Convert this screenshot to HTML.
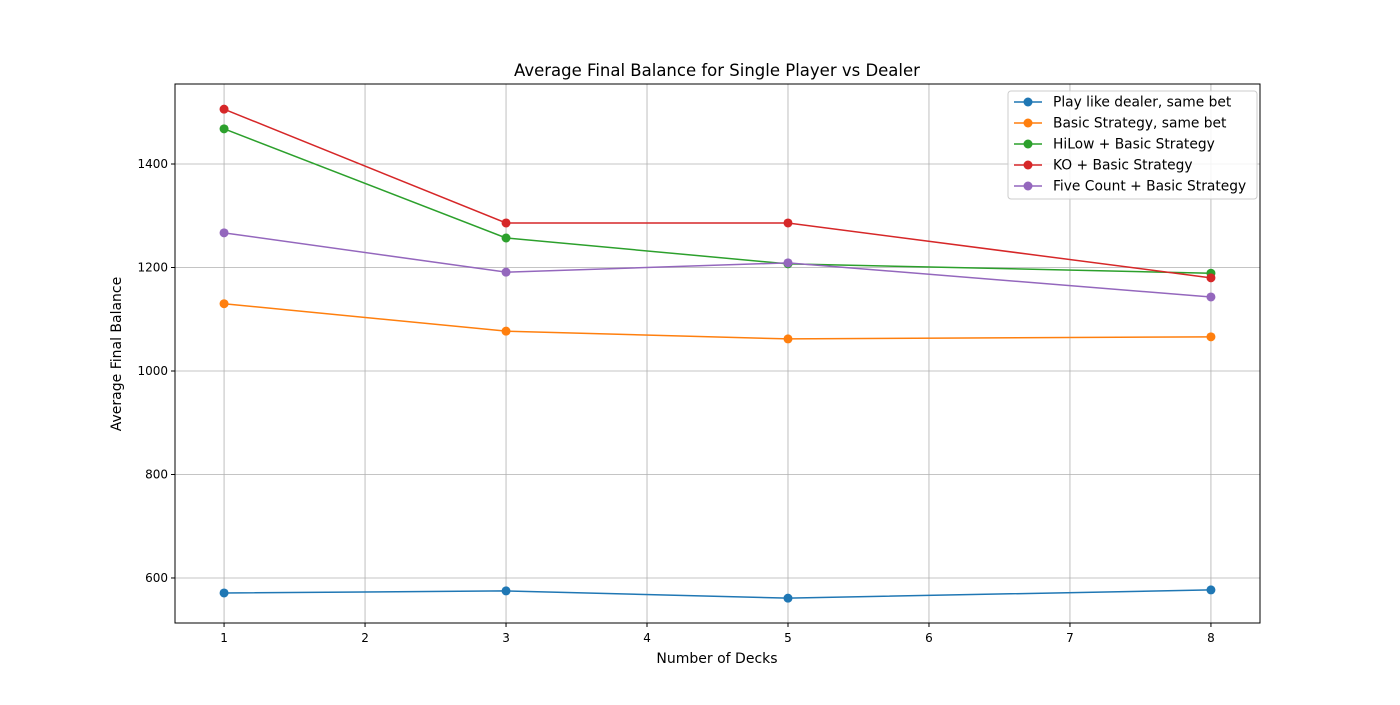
<!DOCTYPE html>
<html><head><meta charset="utf-8"><style>
body{margin:0;background:#fff;font-family:"Liberation Sans","DejaVu Sans",sans-serif}
svg text{font-family:"DejaVu Sans","Liberation Sans",sans-serif}
</style></head><body>
<svg id="chart" width="1400" height="700" xmlns="http://www.w3.org/2000/svg">
<rect width="1400" height="700" fill="#fff"/>
<g id="grid"></g><g id="axes"></g><g id="series"></g><g id="legend"></g>
<text x="717" y="76" text-anchor="middle" font-size="16.5">Average Final Balance for Single Player vs Dealer</text>
<text x="717" y="663" text-anchor="middle" font-size="14">Number of Decks</text>
<text transform="translate(121,354) rotate(-90)" text-anchor="middle" font-size="14">Average Final Balance</text>
</svg>
<script>
const decks=[1,3,5,8];
const seriesNames=["Play like dealer, same bet","Basic Strategy, same bet","HiLow + Basic Strategy","KO + Basic Strategy","Five Count + Basic Strategy"];
const dealerVals=[571,575,561,577];
const basicVals=[1130,1077,1062,1066];
const hilowVals=[1468,1257,1207,1189];
const koVals=[1506,1286,1286,1180];
const fiveVals=[1267,1191,1209,1143];
const xTicks=[1,2,3,4,5,6,7,8];
const yTicks=[600,800,1000,1200,1400];
const colors=["#1f77b4","#ff7f0e","#2ca02c","#d62728","#9467bd"];
const L=175,R=1260,T=84,B=623;
const xMin=0.652,xMax=8.348,yMin=513,yMax=1554.6;
const sx=v=>L+(v-xMin)/(xMax-xMin)*(R-L);
const sy=v=>B-(v-yMin)/(yMax-yMin)*(B-T);
const NS="http://www.w3.org/2000/svg";
function mk(tag,attrs,parent){const e=document.createElementNS(NS,tag);for(const k in attrs)e.setAttribute(k,attrs[k]);parent.appendChild(e);return e;}
const grid=document.getElementById('grid'),axes=document.getElementById('axes'),ser=document.getElementById('series'),leg=document.getElementById('legend');
xTicks.forEach(t=>{const x=sx(t);
 let g=mk('line',{x1:x,x2:x,y1:T,y2:B,stroke:'#b0b0b0','stroke-width':0.8},grid);
 
 
 mk('line',{x1:x,x2:x,y1:B,y2:B+4,stroke:'#000'},axes);
 let tx=mk('text',{x:x,y:B+19,'text-anchor':'middle','font-size':12},axes);tx.textContent=t;
 
 });
yTicks.forEach(t=>{const y=sy(t);
 let g=mk('line',{x1:L,x2:R,y1:y,y2:y,stroke:'#b0b0b0','stroke-width':0.8},grid);
 
 
 mk('line',{x1:L-4,x2:L,y1:y,y2:y,stroke:'#000'},axes);
 let tx=mk('text',{x:L-7,y:y+4,'text-anchor':'end','font-size':12},axes);tx.textContent=t;
 
 });
let frame=mk('rect',{x:L,y:T,width:R-L,height:B-T,fill:'none',stroke:'#000','stroke-width':1},axes);


const all=[dealerVals,basicVals,hilowVals,koVals,fiveVals];
all.forEach((vals,i)=>{
 const pts=vals.map((v,j)=>sx(decks[j])+','+sy(v)).join(' ');
 let pl=mk('polyline',{points:pts,fill:'none',stroke:colors[i],'stroke-width':1.5},ser);
 
 
 vals.forEach((v,j)=>{let c=mk('circle',{cx:sx(decks[j]),cy:sy(v),r:4.5,fill:colors[i]},ser);
  
  });
});
let lb=mk('rect',{x:1008,y:91,width:249,height:108,rx:3,fill:'#fff','fill-opacity':0.85,stroke:'#ccc'},leg);


seriesNames.forEach((n,i)=>{const y=102+i*21;
 mk('line',{x1:1014,x2:1042,y1:y,y2:y,stroke:colors[i],'stroke-width':1.5},leg);
 mk('circle',{cx:1028,cy:y,r:4.5,fill:colors[i]},leg);
 let tx=mk('text',{x:1053,y:y+4.5,'font-size':13.8},leg);tx.textContent=n;
 
 });
</script>
</body></html>
